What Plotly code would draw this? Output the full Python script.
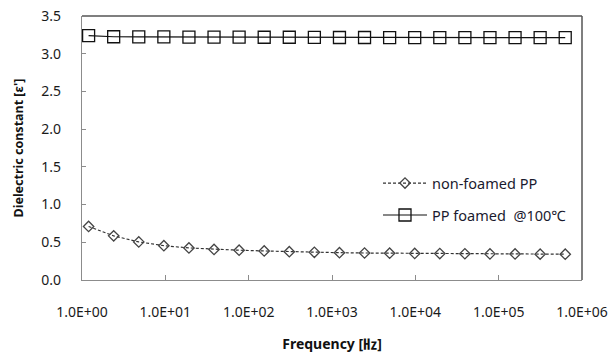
import plotly.graph_objects as go

freq = [1.2 * 2 ** k for k in range(20)]
non_foamed = [0.71, 0.585, 0.505, 0.455, 0.425, 0.405, 0.395, 0.385, 0.375, 0.367,
              0.362, 0.358, 0.355, 0.352, 0.35, 0.348, 0.346, 0.345, 0.343, 0.342]
foamed = [3.24, 3.225, 3.222, 3.222, 3.22, 3.22, 3.22, 3.218, 3.218, 3.216,
          3.215, 3.215, 3.214, 3.214, 3.213, 3.213, 3.212, 3.212, 3.212, 3.212]
x_ticks = [1, 10, 100, 1000, 1e4, 1e5, 1e6]
x_tick_labels = ["1.0E+00", "1.0E+01", "1.0E+02", "1.0E+03", "1.0E+04", "1.0E+05", "1.0E+06"]
y_ticks = [0, 0.5, 1.0, 1.5, 2.0, 2.5, 3.0, 3.5]
y_tick_labels = ["0.0", "0.5", "1.0", "1.5", "2.0", "2.5", "3.0", "3.5"]

FONT = "Noto Sans, Noto Sans CJK KR, sans-serif"

fig = go.Figure()
fig.add_trace(go.Scatter(
    x=freq, y=non_foamed, name="non-foamed PP", mode="lines+markers",
    line=dict(color="#333333", width=1.2, dash="3px,2px"),
    marker=dict(symbol="diamond-open", size=8, color="#444444", line=dict(width=1.3)),
    legend="legend", showlegend=True))
fig.add_trace(go.Scatter(
    x=freq, y=foamed, name="PP foamed  @100\u2103", mode="lines+markers",
    line=dict(color="#111111", width=1.2),
    marker=dict(symbol="square-open", size=12, color="#111111", line=dict(width=1.3)),
    legend="legend2", showlegend=True))

fig.update_layout(
    width=614, height=358, showlegend=True,
    margin=dict(l=82, r=32, t=16, b=78),
    paper_bgcolor="white", plot_bgcolor="white",
    font=dict(family=FONT, size=14, color="#1a1a1a"),
    legend=dict(x=0.592, y=0.367, xanchor="left", yanchor="middle", itemwidth=44,
                bgcolor="rgba(0,0,0,0)", font=dict(size=14.5, color="#1a1a2e")),
    legend2=dict(x=0.592, y=0.246, xanchor="left", yanchor="middle", itemwidth=44,
                 bgcolor="rgba(0,0,0,0)", font=dict(size=14.5, color="#1a1a2e")),
    xaxis=dict(type="log", range=[0, 6], tickvals=x_ticks, ticktext=x_tick_labels,
               showgrid=False, zeroline=False, showline=True, linecolor="#8c8c8c",
               linewidth=1.2, mirror=False, ticks="inside", ticklen=5, tickcolor="#8c8c8c",
               ticklabelstandoff=19, automargin=False,
               title=dict(text="<b>Frequency [\u3390]</b>", standoff=19,
                          font=dict(size=14, color="#111111"))),
    yaxis=dict(range=[0, 3.5], tickvals=y_ticks, ticktext=y_tick_labels,
               showgrid=False, zeroline=False, showline=True, linecolor="#8c8c8c",
               linewidth=1.2, mirror=False, ticks="inside", ticklen=4, tickcolor="#8c8c8c",
               ticklabelstandoff=17, automargin=False,
               title=dict(text="<b>Dielectric constant [\u03b5']</b>", standoff=14,
                          font=dict(size=12.5, color="#111111"))),
    shapes=[
        dict(type="line", xref="paper", yref="paper", x0=0, x1=1, y0=1, y1=1,
             line=dict(color="#555555", width=1.5)),
        dict(type="line", xref="paper", yref="paper", x0=1, x1=1, y0=0, y1=1,
             line=dict(color="#555555", width=1.5)),
    ],
)

fig.write_html("out.html")
